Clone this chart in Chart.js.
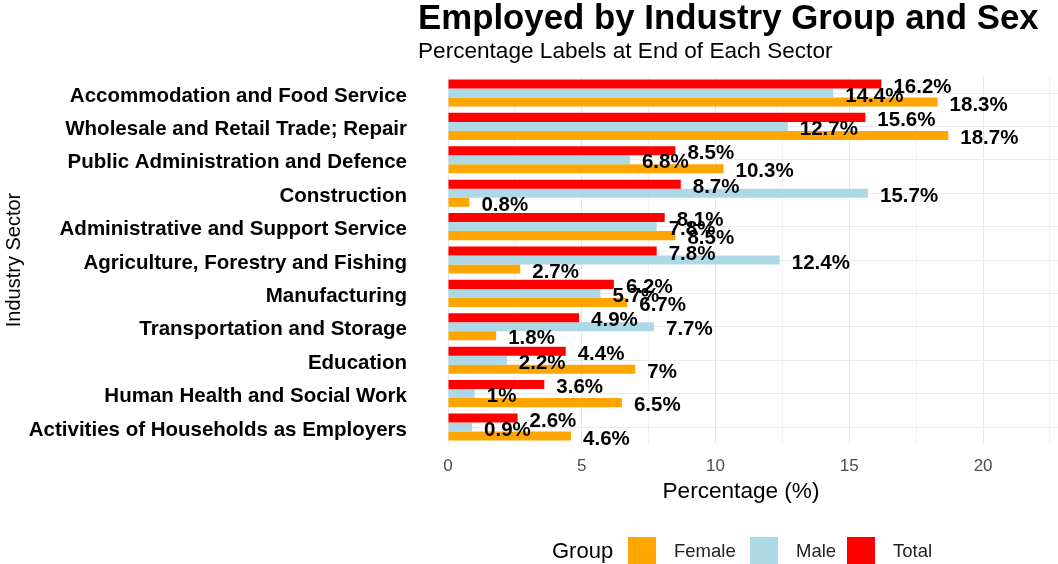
<!DOCTYPE html>
<html>
<head>
<meta charset="utf-8">
<script src="https://cdn.jsdelivr.net/npm/chart.js@4"></script>
<style>
  html, body { margin: 0; padding: 0; background: #fff; }
  #wrap { position: relative; width: 1058px; height: 564px; }
</style>
</head>
<body>
<div id="wrap"><canvas id="chart" width="1058" height="564"></canvas></div>
<script>
const sectors = [
  'Accommodation and Food Service',
  'Wholesale and Retail Trade; Repair',
  'Public Administration and Defence',
  'Construction',
  'Administrative and Support Service',
  'Agriculture, Forestry and Fishing',
  'Manufacturing',
  'Transportation and Storage',
  'Education',
  'Human Health and Social Work',
  'Activities of Households as Employers'
];
const totalPct  = [16.2, 15.6, 8.5, 8.7, 8.1, 7.8, 6.2, 4.9, 4.4, 3.6, 2.6];
const malePct   = [14.4, 12.7, 6.8, 15.7, 7.8, 12.4, 5.7, 7.7, 2.2, 1, 0.9];
const femalePct = [18.3, 18.7, 10.3, 0.8, 8.5, 2.7, 6.7, 1.8, 7, 6.5, 4.6];
const xTicks = [0, 2.5, 5, 7.5, 10, 12.5, 15, 17.5, 20, 22.5];

const FONT = '"Liberation Sans", Arial, sans-serif';

// percentage text just past the end of each bar
const barLabels = {
  id: 'barLabels',
  afterDatasetsDraw(chart) {
    const ctx = chart.ctx;
    ctx.save();
    ctx.font = 'bold 20.5px ' + FONT;
    ctx.fillStyle = '#000';
    ctx.textAlign = 'left';
    ctx.textBaseline = 'middle';
    chart.data.datasets.forEach((ds, i) => {
      chart.getDatasetMeta(i).data.forEach((bar, j) => {
        ctx.fillText(ds.data[j] + '%', bar.x + 12, bar.y + 3);
      });
    });
    ctx.restore();
  }
};

// title, subtitle, x axis title and the bottom legend
const decorations = {
  id: 'decorations',
  afterDraw(chart) {
    const ctx = chart.ctx;
    ctx.save();
    ctx.fillStyle = '#000';
    ctx.textAlign = 'left';
    ctx.textBaseline = 'alphabetic';
    ctx.font = 'bold 34.8px ' + FONT;
    ctx.fillText('Employed by Industry Group and Sex', 418, 29);
    ctx.font = '22.6px ' + FONT;
    ctx.fillText('Percentage Labels at End of Each Sector', 418, 58);

    ctx.textBaseline = 'middle';
    ctx.textAlign = 'center';
    ctx.font = '22.6px ' + FONT;
    ctx.fillText('Percentage (%)', 741, 492);

    ctx.textAlign = 'left';
    ctx.font = '22px ' + FONT;
    ctx.fillText('Group', 552, 552);
    const items = chart.data.datasets.slice().reverse();
    const boxX = [628, 750, 847];
    ctx.font = '18.5px ' + FONT;
    items.forEach((ds, k) => {
      ctx.fillStyle = ds.backgroundColor;
      ctx.fillRect(boxX[k], 537, 28, 28);
      ctx.fillStyle = '#222';
      ctx.fillText(ds.label, boxX[k] + 46, 552);
    });
    ctx.restore();
  }
};

new Chart(document.getElementById('chart'), {
  type: 'bar',
  data: {
    labels: sectors,
    datasets: [
      { label: 'Total', data: totalPct, backgroundColor: '#FF0000' },
      { label: 'Male', data: malePct, backgroundColor: '#ADD8E6' },
      { label: 'Female', data: femalePct, backgroundColor: '#FFA500' }
    ]
  },
  options: {
    indexAxis: 'y',
    responsive: false,
    animation: false,
    categoryPercentage: 0.81,
    barPercentage: 1,
    layout: { padding: { top: 76.3, bottom: 62.3, left: 0, right: 0 } },
    plugins: {
      legend: { display: false },
      tooltip: { enabled: false }
    },
    scales: {
      x: {
        min: 0,
        max: 22.8,
        afterBuildTicks: s => { s.ticks = xTicks.map(v => ({ value: v })); },
        afterFit: s => { s.height = 58; s.paddingLeft = 0; s.paddingRight = 0; },
        grid: {
          color: ctx => (ctx.tick && ctx.tick.value % 5 === 0) ? '#e6e6e6' : '#f2f2f2',
          drawTicks: false
        },
        border: { display: false },
        ticks: {
          padding: 12,
          color: '#4d4d4d',
          font: { family: FONT, size: 17 },
          callback: v => (v % 5 === 0 ? String(v) : '')
        }
      },
      y: {
        afterFit: s => { s.width = 448; },
        grid: { color: '#ebebeb', offset: false, drawTicks: false },
        border: { display: false },
        ticks: {
          padding: 41,
          labelOffset: 3,
          color: '#000',
          font: { family: FONT, size: 20.5, weight: 'bold' }
        },
        title: {
          display: true,
          text: 'Industry Sector',
          color: '#000',
          font: { family: FONT, size: 20 },
          padding: { top: 2, bottom: 0 }
        }
      }
    }
  },
  plugins: [barLabels, decorations]
});
</script>
</body>
</html>
